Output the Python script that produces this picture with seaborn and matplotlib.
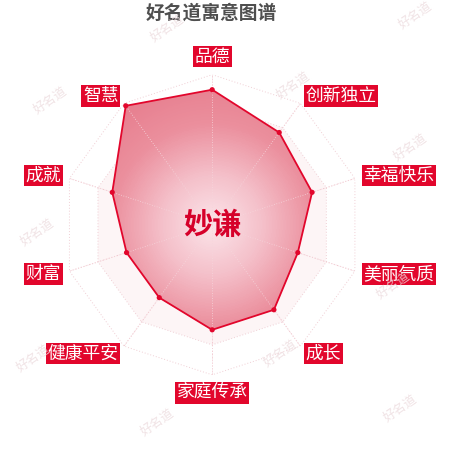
import numpy as np
import pandas as pd
import matplotlib
matplotlib.use("Agg")
import matplotlib.pyplot as plt
from matplotlib.colors import LinearSegmentedColormap
import seaborn as sns

sns.set_theme(style="white")
plt.rcParams['font.family'] = ['Noto Sans CJK SC', 'DejaVu Sans']

# ---- data ----
title = "好名道寓意图谱"
name = "妙谦"
categories = ["品德", "创新独立", "幸福快乐", "美丽气质", "成长",
              "家庭传承", "健康平安", "财富", "成就", "智慧"]
values = [90, 76, 70, 60, 70, 70, 60, 60, 70, 98]
rmax = 100
rings = [20, 40, 60, 80, 100]
watermark = "好名道"
wm_pos = [(167, 28), (415, 15), (50, 100), (293, 85), (410, 147), (37, 232),
          (280, 353), (33, 358), (157, 422), (400, 408), (393, 285)]

RED = "#e2062c"

n = len(categories)
theta = np.arange(n) * 2 * np.pi / n
theta_c = np.append(theta, theta[0])
vals_c = np.append(values, values[0])

fig = plt.figure(figsize=(4.5, 4.5), dpi=100)
fig.patch.set_facecolor("white")
ax = fig.add_axes([0.138, 0.167, 0.667, 0.667], projection="polar")
ax.set_theta_zero_location("N")
ax.set_theta_direction(-1)
ax.set_ylim(0, rmax)
ax.axis("off")

# background split bands
band_cols = ["#ffffff", "#fdf5f6"]
prev = 0
for i, r in enumerate(rings):
    tt = np.concatenate([theta_c, theta_c[::-1]])
    rr = np.concatenate([np.full(n + 1, r), np.full(n + 1, prev)])
    ax.fill(tt, rr, color=band_cols[i % 2], lw=0, zorder=0)
    prev = r

# ring grid lines
for r in rings:
    ax.plot(theta_c, np.full(n + 1, r), color="#f0ced4", lw=0.7, ls=(0, (1, 2)), zorder=1)
# spokes
for t in theta:
    ax.plot([t, t], [0, rmax], color="#efc2ca", lw=0.7, ls=(0, (1, 2)), zorder=1)

# data polygon with radial gradient
poly = ax.fill(theta_c, vals_c, color="none", lw=0, zorder=2)[0]
cmap = LinearSegmentedColormap.from_list("g", ["#fbe4e9", "#f4bfc9", "#eb8f9d", "#e67d8d"])
T, R = np.meshgrid(np.linspace(0, 2 * np.pi, 361), np.linspace(0, rmax, 101))
mesh = ax.pcolormesh(T, R, R[:-1, :-1], cmap=cmap, vmin=0, vmax=rmax, shading="flat", zorder=2)
mesh.set_clip_path(poly)

# spokes over fill (faint)
for t in theta:
    ax.plot([t, t], [0, rmax], color="#f6d6dc", lw=0.6, ls=(0, (1, 2)), zorder=3)

df = pd.DataFrame({"theta": theta_c, "value": vals_c})
sns.lineplot(data=df, x="theta", y="value", sort=False, estimator=None,
             color=RED, lw=1.3, ax=ax, zorder=4)
sns.scatterplot(data=df.iloc[:-1], x="theta", y="value", color=RED, s=14,
                edgecolor="none", ax=ax, zorder=5)
ax.set_ylim(0, rmax)
ax.axis("off")

# category labels
rl = rmax * 159 / 150
for t, lab in zip(theta, categories):
    s, c = np.sin(t), np.cos(t)
    if abs(s) < 1e-6:
        ha = "center"
        va = "bottom" if c > 0 else "top"
    else:
        ha = "left" if s > 0 else "right"
        va = "center"
    ax.text(t, rl, lab, ha=ha, va=va, color="white", fontsize=12.8,
            bbox=dict(boxstyle="square,pad=0.1", fc=RED, ec="none"), zorder=6)

# center name
ax.text(0, 0, name, ha="center", va="center", color="#d6002a", fontsize=21,
        fontweight="bold", zorder=7)

# title
fig.text(0.47, 0.972, title, ha="center", va="center", fontsize=13.5,
         fontweight="bold", color="#4f4f4f")

# watermarks
for (x, y) in wm_pos:
    fig.text(x / 450, 1 - y / 450, watermark, ha="center", va="center",
             rotation=35, fontsize=9, color="#eddcdf", alpha=0.8, zorder=8)

fig.savefig("out.png", dpi=100, facecolor="white")
